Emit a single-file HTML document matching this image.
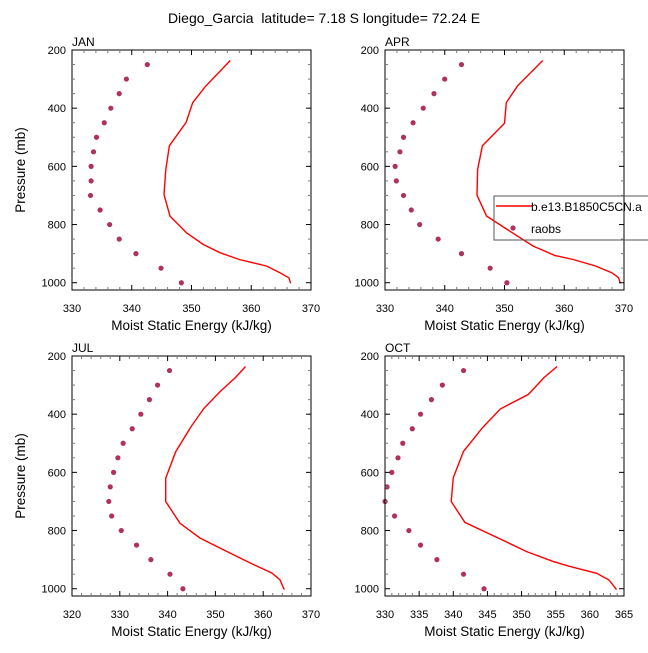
<!DOCTYPE html>
<html><head><meta charset="utf-8"><style>
html,body{margin:0;padding:0;background:#fff;}
svg text{font-family:"Liberation Sans",sans-serif;fill:#000;}
</style></head><body>
<svg id="chart" width="648" height="648" viewBox="0 0 648 648" xmlns="http://www.w3.org/2000/svg">
<text x="324" y="23" font-size="14" text-anchor="middle">Diego_Garcia&#160; latitude= 7.18 S longitude= 72.24 E</text>
</svg>
<script>
const obsPressure=[250,300,350,400,450,500,550,600,650,700,750,800,850,900,950,1000];
const janObs=[342.6,339.1,337.9,336.5,335.4,334.1,333.6,333.2,333.2,333.1,334.7,336.3,337.9,340.7,344.9,348.3];
const aprObs=[342.8,340,338.2,336.4,334.7,333.1,332.5,331.7,331.9,333.1,334.4,335.8,338.9,342.8,347.6,350.4];
const julObs=[340.4,337.9,336.2,334.4,332.6,330.7,329.6,328.7,328,327.7,328.3,330.3,333.5,336.5,340.5,343.2];
const octObs=[341.5,338.4,336.8,335.2,334,332.6,331.9,331,330.3,330,331.4,333.5,335.2,337.6,341.5,344.5];
const janModelP=[236,326,381,449,529,611,697,771,829,869,897,920,943,966,983,1002];
const janModel=[356.5,352.3,350.2,349.1,346.3,345.7,345.4,346.4,349.2,352,354.8,358,362.6,364.8,366.3,366.6];
const aprModelP=[236,323,381,452,529,611,699,771,823,874,906,920,943,966,983,1002];
const aprModel=[356.4,352.2,350.3,350,346.3,345.5,345.4,347,350.9,354.8,358.4,361.5,365.3,368,369.1,369.4];
const julModelP=[236,274,322,380,443,529,620,700,775,826,872,917,946,969,1003];
const julModel=[356.3,354.2,351,347.6,344.9,341.7,339.6,339.6,342.6,346.8,352.4,358,361.8,363.5,364.4];
const octModelP=[236,274,332,382,446,528,618,700,772,828,872,906,923,947,970,1003];
const octModel=[355.2,353.3,351,346.9,344.3,341.5,340,339.7,341.7,346.8,350.7,354.6,357,361,362.8,363.9];
const janXTicks=[330,340,350,360,370];
const aprXTicks=[330,340,350,360,370];
const julXTicks=[320,330,340,350,360,370];
const octXTicks=[330,335,340,345,350,355,360,365];
const yTicks=[200,400,600,800,1000];

const svg=document.getElementById('chart');
const NS='http://www.w3.org/2000/svg';
function mk(tag,attrs,parent){const e=document.createElementNS(NS,tag);for(const k in attrs)e.setAttribute(k,attrs[k]);(parent||svg).appendChild(e);return e;}

const panels=[
 {name:'jan',label:'JAN',x0:72,x1:311,y0:50,y1:290,xmin:330,xmax:370,minor:2,xt:janXTicks,obs:janObs,mp:janModelP,mv:janModel,ylab:true},
 {name:'apr',label:'APR',x0:385,x1:624,y0:50,y1:290,xmin:330,xmax:370,minor:2,xt:aprXTicks,obs:aprObs,mp:aprModelP,mv:aprModel,ylab:false},
 {name:'jul',label:'JUL',x0:72,x1:311,y0:356,y1:596,xmin:320,xmax:370,minor:2,xt:julXTicks,obs:julObs,mp:julModelP,mv:julModel,ylab:true},
 {name:'oct',label:'OCT',x0:385,x1:624,y0:356,y1:596,xmin:330,xmax:365,minor:1,xt:octXTicks,obs:octObs,mp:octModelP,mv:octModel,ylab:false}
];
const pmin=200,pmax=1025;
panels.forEach(P=>{
 const g=mk('g',{});
 
 
 const xs=v=>P.x0+(v-P.xmin)/(P.xmax-P.xmin)*(P.x1-P.x0);
 const ys=p=>P.y0+(p-pmin)/(pmax-pmin)*(P.y1-P.y0);
 const pts=P.mv.map((v,i)=>xs(v).toFixed(1)+','+ys(P.mp[i]).toFixed(1)).join(' ');
 const line=mk('polyline',{points:pts,fill:'none',stroke:'#ff0000','stroke-width':1.4},g);
 
 
 P.obs.forEach((v,i)=>{
  const c=mk('circle',{cx:xs(v),cy:ys(obsPressure[i]),r:2.6,fill:'#b03060'},g);
  
  
 });
 const fr=mk('rect',{x:P.x0,y:P.y0,width:P.x1-P.x0,height:P.y1-P.y0,fill:'none',stroke:'#000','stroke-width':1},g);
 
 
 for(let p=200;p<=1000;p+=50){
  const y=ys(p), maj=(p%200===0), L=maj?5:3, col=maj?'#000':'#777';
  mk('line',{x1:P.x0,x2:P.x0+L,y1:y,y2:y,stroke:col,'stroke-width':1},g);
  mk('line',{x1:P.x1,x2:P.x1-L,y1:y,y2:y,stroke:col,'stroke-width':1},g);
 }
 yTicks.forEach(p=>{
  const t=mk('text',{x:P.x0-6,y:ys(p)+4,'font-size':11,'text-anchor':'end'},g);
  t.textContent=p;
  
  
 });
 for(let v=P.xmin;v<=P.xmax+1e-9;v+=P.minor){
  const x=xs(v), maj=P.xt.includes(v), L=maj?5:3, col=maj?'#000':'#777';
  mk('line',{x1:x,x2:x,y1:P.y1,y2:P.y1-L,stroke:col,'stroke-width':1},g);
  mk('line',{x1:x,x2:x,y1:P.y0,y2:P.y0+L,stroke:col,'stroke-width':1},g);
 }
 P.xt.forEach(v=>{
  const t=mk('text',{x:xs(v),y:P.y1+22,'font-size':11,'text-anchor':'middle'},g);
  t.textContent=v;
  
  
 });
 const lb=mk('text',{x:P.x0,y:P.y0-4,'font-size':12},g);
 lb.textContent=P.label;
 
 
 const xt=mk('text',{x:(P.x0+P.x1)/2,y:P.y1+40,'font-size':13.5,'text-anchor':'middle'},g);
 xt.textContent='Moist Static Energy (kJ/kg)';
 
 
 if(P.ylab){
  const cy=(P.y0+P.y1)/2, cx=25;
  const yt=mk('text',{x:cx,y:cy,'font-size':13.5,'text-anchor':'middle',transform:'rotate(-90 '+cx+' '+cy+')'},g);
  yt.textContent='Pressure (mb)';
  
  
 }
});
const lg=mk('g',{});


mk('rect',{x:494,y:196,width:170,height:44,fill:'none',stroke:'#555','stroke-width':1},lg);
mk('line',{x1:496,x2:532,y1:206,y2:206,stroke:'#ff0000','stroke-width':1.4},lg);
const l1=mk('text',{x:531,y:211,'font-size':12},lg);
l1.textContent='b.e13.B1850C5CN.a';


mk('circle',{cx:513,cy:228,r:2.6,fill:'#b03060'},lg);
const l2=mk('text',{x:531,y:233,'font-size':12},lg);
l2.textContent='raobs';


</script>
</body></html>
